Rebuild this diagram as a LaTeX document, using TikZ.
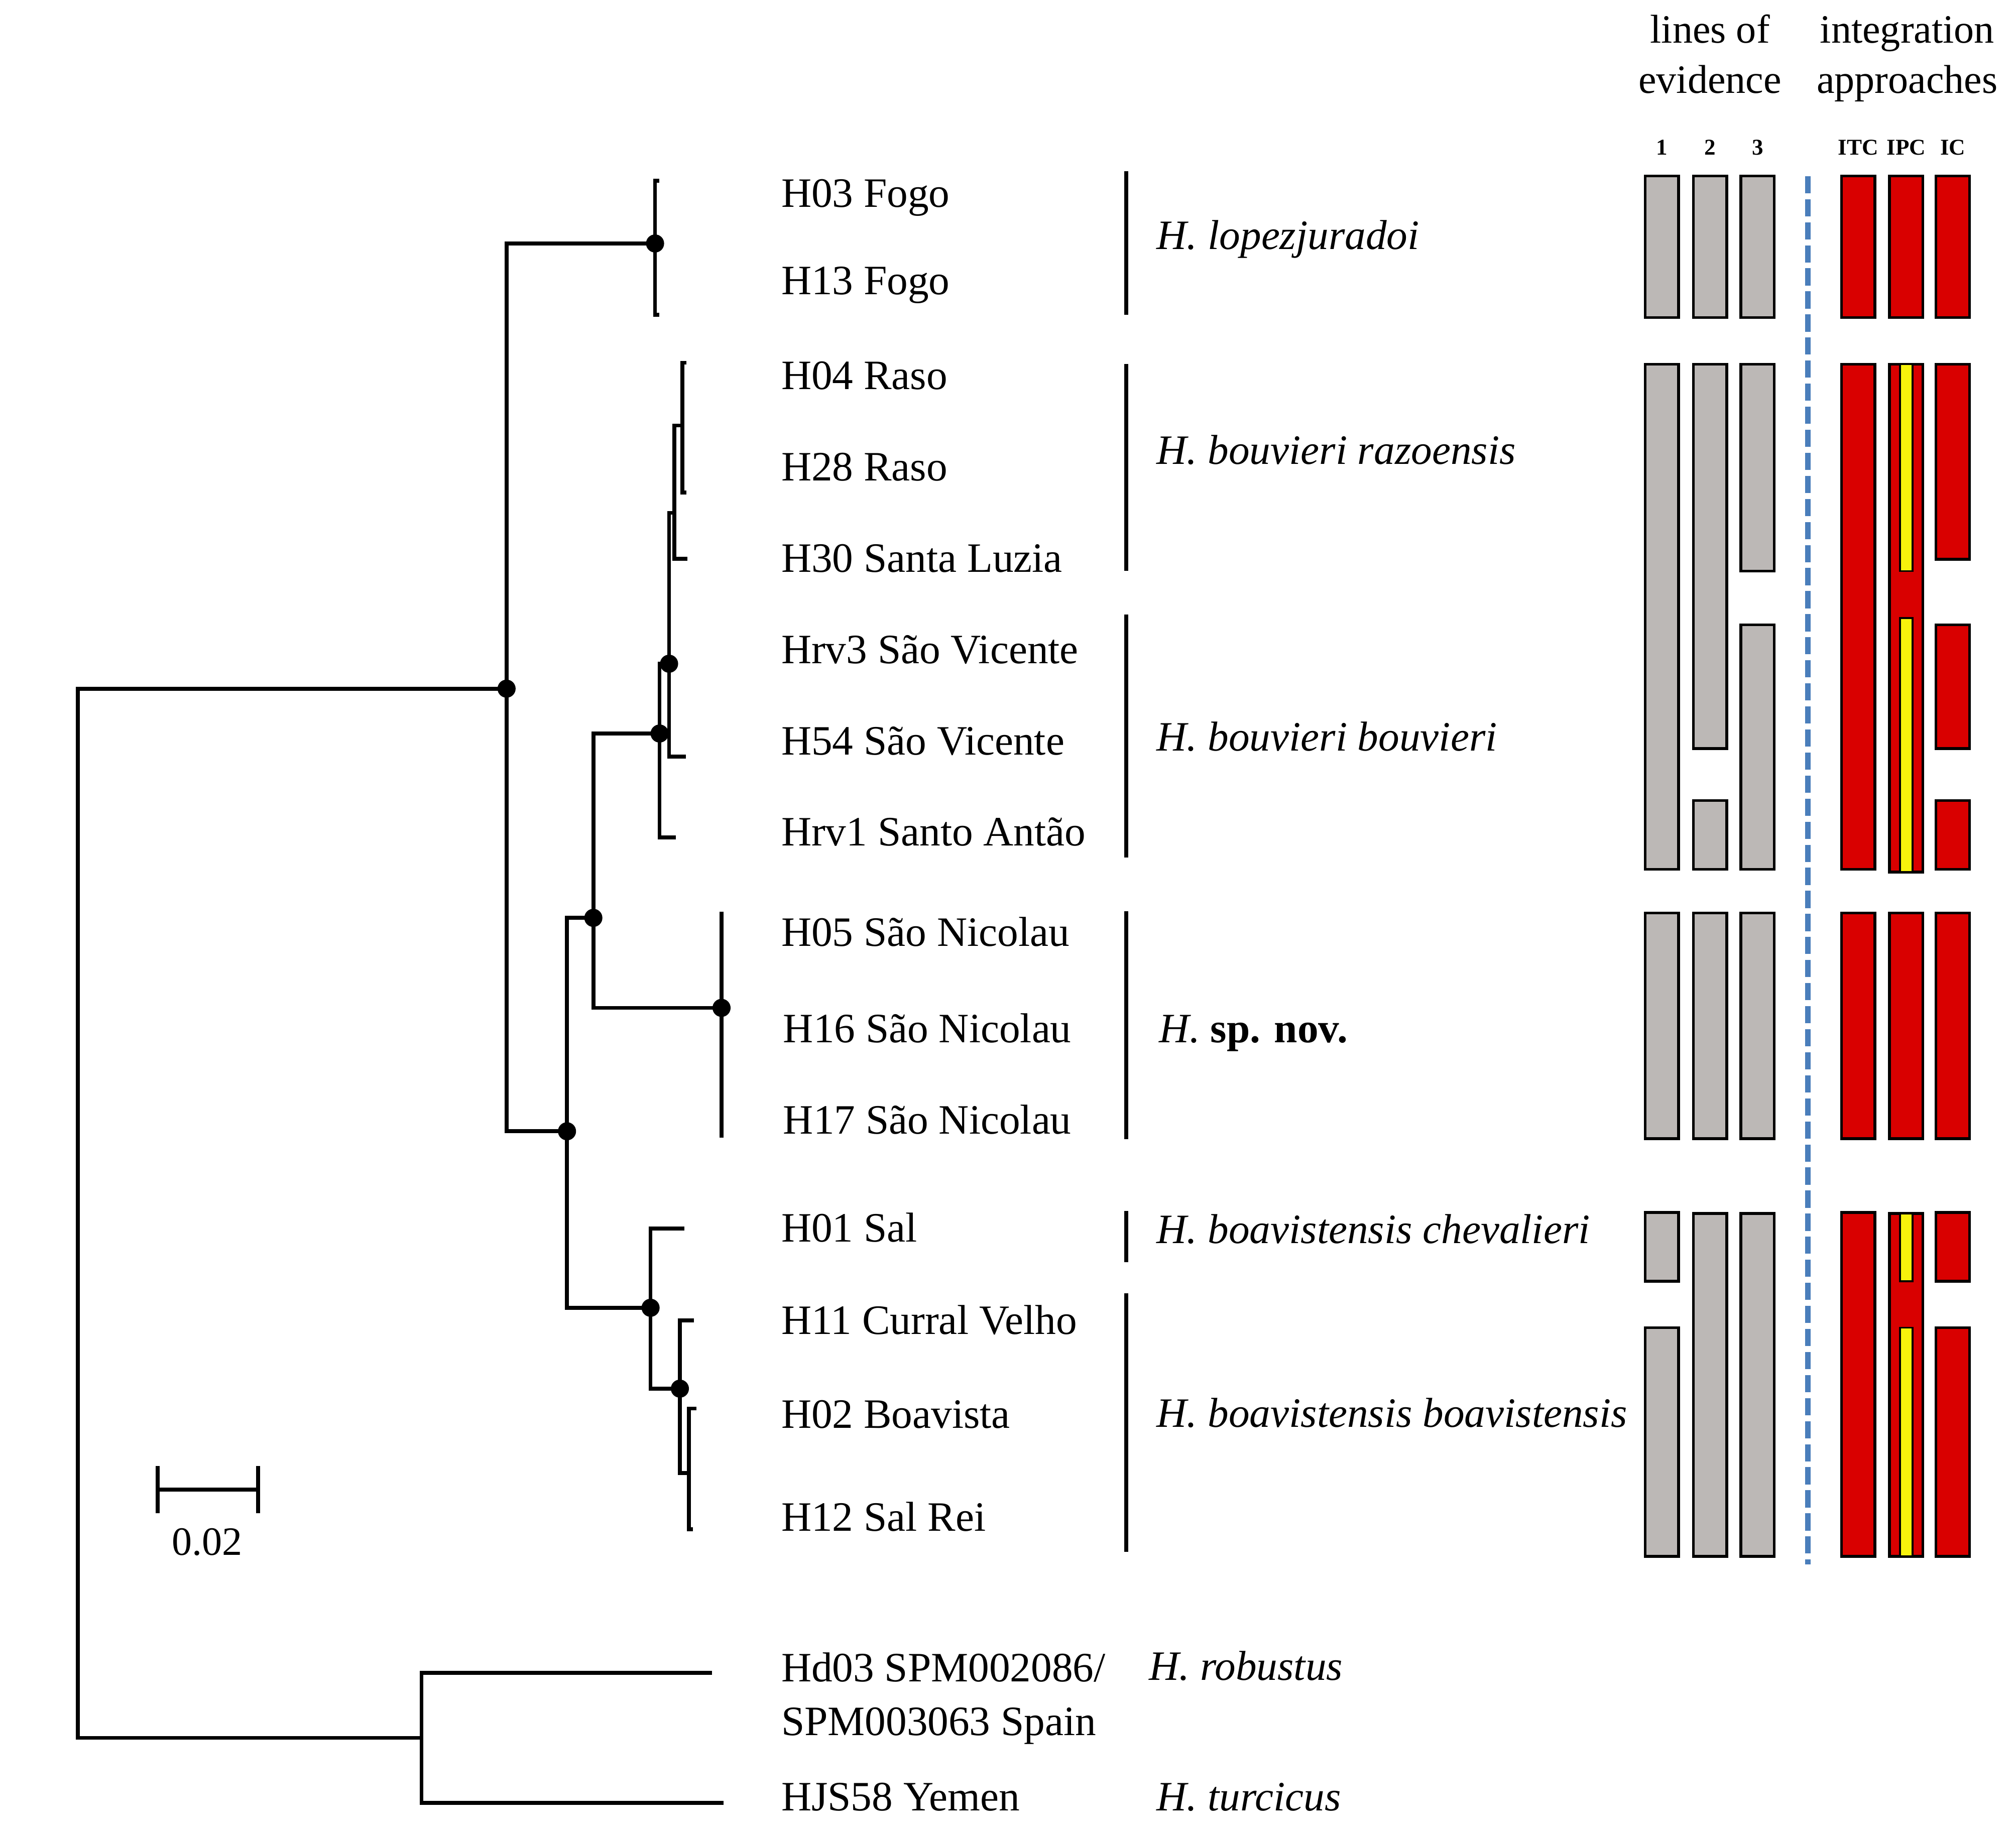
\documentclass[tikz,border=0pt]{standalone}
\usepackage{fontspec}
\setmainfont{Liberation Serif}
\usetikzlibrary{positioning}
\definecolor{evgrey}{HTML}{BCB8B6}
\definecolor{intred}{HTML}{D90000}
\definecolor{ipcyellow}{HTML}{F7F20C}
\definecolor{sepblue}{HTML}{4A7EBB}
\newcommand{\colbar}[4][evbar]{\draw[#1] (#2-13,#3) rectangle (#2+13,#4);}
\newcommand{\ipcstrip}[2]{\draw[strip] (1477.8,#1) rectangle (1487.6,#2);}
\tikzset{
  branch/.style={line width=0.85pt},
  leaf/.style={anchor=base west,inner sep=0pt,font=\fontsize{9.25}{11}\selectfont},
  taxon/.style={anchor=base west,inner sep=0pt,font=\fontsize{9.25}{11}\selectfont\itshape},
  clade/.style={line width=0.8pt},
  evbar/.style={draw=black,line width=0.6pt,fill=evgrey},
  intbar/.style={draw=black,line width=0.6pt,fill=intred},
  strip/.style={draw=black,line width=0.4pt,fill=ipcyellow},
  head/.style={anchor=base,inner sep=0pt,font=\fontsize{8.9}{10}\selectfont},
  colhead/.style={anchor=base,inner sep=0pt,font=\fontsize{5}{6}\selectfont\bfseries}
}

\begin{document}
\begin{tikzpicture}[x=0.01cm,y=-0.01cm]
  \useasboundingbox (0,0) rectangle (1568,1425);

  % tree: internal nodes and tips
  \coordinate (root) at (60.5,944);
  \coordinate (nA) at (394,535.7);
  \coordinate (nOut) at (327.8,1351.9);
  \coordinate (tHd03) at (553.9,1301.2);
  \coordinate (tHJS) at (562.7,1402.3);
  \coordinate (nLop) at (509.5,189.4);
  \coordinate (tH03) at (512.7,140.6);
  \coordinate (tH13) at (512.7,244.8);
  \coordinate (nB) at (441,880);
  \coordinate (nC) at (461.5,714);
  \coordinate (nSN) at (561.2,784);
  \coordinate (tH05) at (561.2,709.2);
  \coordinate (tH17) at (561.2,885);
  \coordinate (nD) at (513,570.6);
  \coordinate (nE) at (520.4,516.3);
  \coordinate (tHrv1) at (525.6,651.4);
  \coordinate (nF) at (524.5,399);
  \coordinate (tH54) at (533.5,588.6);
  \coordinate (nG) at (530.7,331);
  \coordinate (tH30) at (534.7,434.7);
  \coordinate (tH04) at (534,282.2);
  \coordinate (tH28) at (534,383);
  \coordinate (nH) at (506,1017.3);
  \coordinate (tH01) at (532.2,955.6);
  \coordinate (nI) at (528.8,1080.2);
  \coordinate (tH11) at (539.6,1027);
  \coordinate (nJ) at (535.7,1145.9);
  \coordinate (tH02) at (541.7,1095.7);
  \coordinate (tH12) at (539,1189.6);

  \draw[branch] (nA) -| (root) |- (nOut);
  \draw[branch] (tHd03) -| (nOut) |- (tHJS);
  \draw[branch] (nLop) -| (nA) |- (nB);
  \draw[branch] (tH03) -| (nLop) |- (tH13);
  \draw[branch] (nC) -| (nB) |- (nH);
  \draw[branch] (nD) -| (nC) |- (nSN);
  \draw[branch] (tH05) -- (tH17);
  \draw[branch] (nE) -| (nD) |- (tHrv1);
  \draw[branch] (nF) -| (nE) |- (tH54);
  \draw[branch] (nG) -| (nF) |- (tH30);
  \draw[branch] (tH04) -| (nG) |- (tH28);
  \draw[branch] (tH01) -| (nH) |- (nI);
  \draw[branch] (tH11) -| (nI) |- (nJ);
  \draw[branch] (tH02) -| (nJ) |- (tH12);
  \foreach \n in {nA,nLop,nB,nC,nD,nE,nH,nI,nSN}
    \fill (\n) circle (2pt);

  % scale bar
  \coordinate (sbL) at (122.6,1158.7);
  \coordinate (sbR) at (200.7,1158.7);
  \draw[branch] (sbL) -- (sbR);
  \draw[branch] (sbL) ++(0,-18.3) -- ++(0,36.6);
  \draw[branch] (sbR) ++(0,-18.3) -- ++(0,36.6);
  \node[head] (sblab) at (161,1209.5) {0.02};

  % tip labels
  \node[leaf] (lH03) at (607,161) {H03 Fogo};
  \node[leaf] (lH13) at (607,229) {H13 Fogo};
  \node[leaf] (lH04) at (607,303) {H04 Raso};
  \node[leaf] (lH28) at (607,374) {H28 Raso};
  \node[leaf] (lH30) at (607,445) {H30 Santa Luzia};
  \node[leaf] (lHrv3) at (607,516) {Hrv3 São Vicente};
  \node[leaf] (lH54) at (607,587) {H54 São Vicente};
  \node[leaf] (lHrv1) at (607,658) {Hrv1 Santo Antão};
  \node[leaf] (lH05) at (607,736) {H05 São Nicolau};
  \node[leaf] (lH16) at (608.5,811) {H16 São Nicolau};
  \node[leaf] (lH17) at (608.5,882) {H17 São Nicolau};
  \node[leaf] (lH01) at (607,966) {H01 Sal};
  \node[leaf] (lH11) at (607,1038) {H11 Curral Velho};
  \node[leaf] (lH02) at (607,1111) {H02 Boavista};
  \node[leaf] (lH12) at (607,1191) {H12 Sal Rei};
  \node[leaf] (lHd03) at (607,1308) {Hd03 SPM002086/};
  \node[leaf] (lHd03b) at (607,1350) {SPM003063 Spain};
  \node[leaf] (lHJS) at (607,1408.5) {HJS58 Yemen};

  % species
  \draw[clade] (876,133) -- (876,245);
  \draw[clade] (876,283) -- (876,444);
  \draw[clade] (876,478) -- (876,667);
  \draw[clade] (876,709) -- (876,886);
  \draw[clade] (876,942) -- (876,982);
  \draw[clade] (876,1006) -- (876,1207);
  \node[taxon] (sLop) at (899,194) {H. lopezjuradoi};
  \node[taxon] (sRaz) at (899,361) {H. bouvieri razoensis};
  \node[taxon] (sBou) at (899,584) {H. bouvieri bouvieri};
  \node[taxon] (sNov) at (901,811) {H.\ \upshape\bfseries sp. nov.};
  \node[taxon] (sChe) at (899,967) {H. boavistensis chevalieri};
  \node[taxon] (sBoa) at (899,1110) {H. boavistensis boavistensis};
  \node[taxon] (sRob) at (893,1307) {H. robustus};
  \node[taxon] (sTur) at (899,1408.5) {H. turcicus};

  % headers
  \node[head] (hLines) at (1330,33.5) {lines of};
  \node[head] (hEvid) at (1330,72.4) {evidence};
  \node[head] (hInt) at (1483.4,33.5) {integration};
  \node[head] (hAppr) at (1483.4,72.4) {approaches};
  \node[colhead] (c1) at (1292.5,120.3) {1};
  \node[colhead] (c2) at (1330,120.3) {2};
  \node[colhead] (c3) at (1367,120.3) {3};
  \node[colhead] (cITC) at (1445.3,120.3) {ITC};
  \node[colhead] (cIPC) at (1482.6,120.3) {IPC};
  \node[colhead] (cIC) at (1518.8,120.3) {IC};

  % lines of evidence
  \foreach \c in {1292.5,1330,1367} {
    \colbar{\c}{137}{247}
    \colbar{\c}{710.3}{885.7}
  }
  \colbar{1292.5}{283.3}{676.3}
  \colbar{1330}{283.3}{582.3}
  \colbar{1330}{622.7}{676.3}
  \colbar{1367}{283.3}{444.3}
  \colbar{1367}{486.1}{676.3}
  \colbar{1292.5}{943.2}{996.6}
  \colbar{1292.5}{1032.8}{1210.7}
  \colbar{1330}{943.9}{1210.7}
  \colbar{1367}{943.9}{1210.7}

  % separator
  \coordinate (sepT) at (1406,137);
  \coordinate (sepB) at (1406,1217);
  \draw[sepblue,line width=1.2pt,dash pattern=on 3.8pt off 1.3pt] (sepT) -- (sepB);

  % integration approaches
  \foreach \c in {1445.3,1482.6,1518.8} {
    \colbar[intbar]{\c}{137}{247}
    \colbar[intbar]{\c}{710.3}{885.7}
  }
  \colbar[intbar]{1445.3}{283.3}{676.3}
  \colbar[intbar]{1482.6}{283.3}{678.4}
  \ipcstrip{283.3}{444.3}
  \ipcstrip{480.7}{678.4}
  \colbar[intbar]{1518.8}{283.3}{435}
  \colbar[intbar]{1518.8}{486.1}{582.3}
  \colbar[intbar]{1518.8}{622.7}{676.3}
  \colbar[intbar]{1445.3}{943.2}{1210.7}
  \colbar[intbar]{1482.6}{943.9}{1210.7}
  \ipcstrip{943.9}{996.6}
  \ipcstrip{1032.8}{1210.7}
  \colbar[intbar]{1518.8}{943.2}{996.6}
  \colbar[intbar]{1518.8}{1032.8}{1210.7}
\end{tikzpicture}
\end{document}
